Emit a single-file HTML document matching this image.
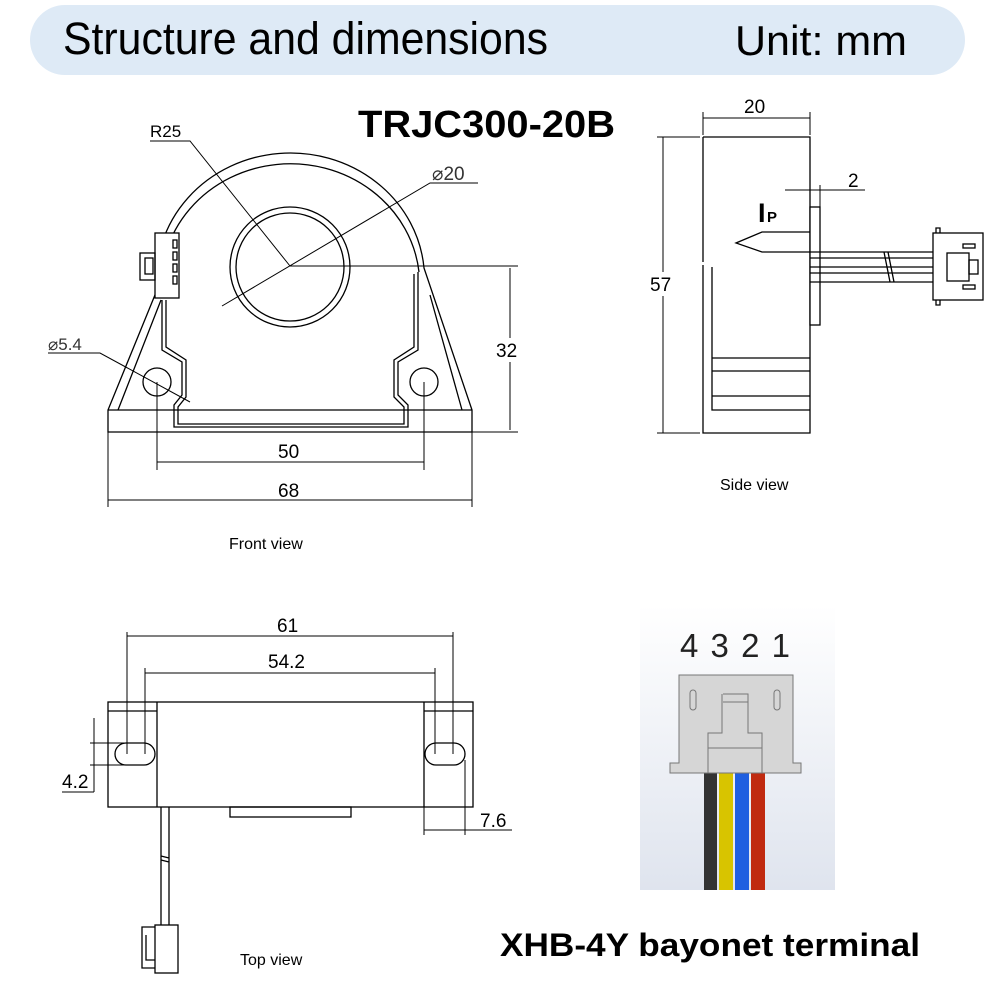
<!DOCTYPE html>
<html><head><meta charset="utf-8"><style>
html,body{margin:0;padding:0;background:#fff;width:1000px;height:1000px;overflow:hidden}
svg{display:block}
text{font-family:"Liberation Sans",sans-serif}
</style></head><body>
<svg width="1000" height="1000" viewBox="0 0 1000 1000" xmlns="http://www.w3.org/2000/svg">
<defs>
<linearGradient id="bg" x1="0" y1="0" x2="0" y2="1">
<stop offset="0" stop-color="#ffffff"/><stop offset="1" stop-color="#dfe4ee"/></linearGradient>
</defs>
<!-- header -->
<rect x="30" y="5" width="935" height="70" rx="35" fill="#deeaf6"/>
<text x="63" y="54" font-size="45" textLength="485" lengthAdjust="spacingAndGlyphs">Structure and dimensions</text>
<text x="735" y="55" font-size="42" textLength="172" lengthAdjust="spacingAndGlyphs">Unit: mm</text>
<text x="358" y="137" font-size="38" font-weight="600" textLength="257" lengthAdjust="spacingAndGlyphs">TRJC300-20B</text>

<g fill="none" stroke="#000" stroke-width="1.3">
<!-- FRONT VIEW -->
<path d="M157,290 A134,126 0 0 1 424,268 L472,410 L472,432 L108,432 L108,410 Z" fill="#fff"/>
<path d="M162,298 A129,121 0 0 1 419,272"/>
<path d="M161,300 L118,410 M430,295 L462,410"/>
<path d="M108,410 H472"/>
<path d="M162,300 V350 L182,362 V395 L174,405 V427 H408 V405 L398,395 V362 L418,350 V272"/>
<path d="M166,300 V347 L186,360 V397 L178,407 V424 H404 V407 L394,397 V360 L414,347 V274"/>
<circle cx="290" cy="267" r="60"/><circle cx="290" cy="267" r="54"/>
<circle cx="157" cy="382" r="14"/><circle cx="424" cy="382" r="14"/>
<rect x="155" y="233" width="24" height="65" fill="#fff"/>
<rect x="140" y="253" width="15" height="27"/>
<rect x="145" y="258" width="8" height="16"/>
<rect x="173" y="240" width="4" height="8"/><rect x="173" y="252" width="4" height="8"/><rect x="173" y="264" width="4" height="8"/><rect x="173" y="276" width="4" height="8"/>
</g>
<g fill="none" stroke="#000" stroke-width="1">
<path d="M150,141 H190 L290,266 M478,183 H430 L222,306"/>
<path d="M48,353 H100 L190,402"/>
<path d="M290,266 H518 M472,432 H518 M510,268 V430"/>
<path d="M157,382 V470 M424,382 V470 M157,462 H424"/>
<path d="M108,432 V507 M472,432 V507 M108,500 H472"/>
</g>
<text x="150" y="137" font-size="17">R25</text>
<text x="432" y="180" font-size="19" fill="#333">⌀20</text>
<text x="48" y="350" font-size="17" fill="#333">⌀5.4</text>
<rect x="495" y="338" width="30" height="24" fill="#fff"/>
<text x="496" y="357" font-size="19">32</text>
<text x="278" y="458" font-size="19">50</text>
<text x="278" y="497" font-size="19">68</text>
<text x="229" y="549" font-size="16">Front view</text>

<!-- SIDE VIEW -->
<g fill="none" stroke="#000" stroke-width="1.3">
<path d="M703,137 H810 V433 H703 V265 M703,262 V137"/>
<path d="M712,267 V410 H810 M712,396 H810 M712,371 H810 M712,358 H810"/>
<rect x="810" y="207" width="10" height="118" fill="#fff"/>
<path d="M810,232 H762 L736,243 L762,252 H810"/>
<path d="M810,252 H933 M810,258 H933 M810,267 H933 M810,273 H933 M810,282 H933 M884,252 L890,282 M888,252 L894,282"/>
<rect x="933" y="233" width="50" height="67" fill="#fff"/>
<path d="M936,233 V228 H940 V233 M936,300 V305 H940 V300"/>
<rect x="947" y="253" width="22" height="28"/>
<rect x="969" y="260" width="9" height="14"/>
<rect x="963" y="244" width="12" height="4"/><rect x="963" y="285" width="12" height="4"/>
</g>
<g fill="none" stroke="#000" stroke-width="1">
<path d="M703,112 V135 M810,112 V135 M703,118 H810"/>
<path d="M657,137 H700 M657,433 H700 M663,137 V433"/>
<path d="M785,190 H865 M820,185 V207"/>
</g>
<text x="744" y="113" font-size="19">20</text>
<rect x="648" y="272" width="30" height="24" fill="#fff"/>
<text x="650" y="291" font-size="19">57</text>
<text x="848" y="187" font-size="19">2</text>
<text x="758" y="222" font-size="27" font-weight="bold">I</text>
<text x="767" y="222" font-size="15" font-weight="bold">P</text>
<text x="720" y="490" font-size="16">Side view</text>

<!-- TOP VIEW -->
<g fill="none" stroke="#000" stroke-width="1.3">
<rect x="108" y="702" width="365" height="105" fill="#fff"/>
<path d="M157,702 V807 M424,702 V807 M108,711 H157 M424,711 H473"/>
<rect x="115" y="743" width="40" height="22" rx="11"/>
<rect x="425" y="743" width="40" height="22" rx="11"/>
<rect x="230" y="807" width="121" height="10"/>
<path d="M161,807 V925 M169,807 V925 M161,856 L169,858 M161,860 L169,862"/>
<rect x="155" y="925" width="23" height="48" fill="#fff"/>
<path d="M155,927 H142 V968 H155 M146,935 V960 H155"/>
</g>
<g fill="none" stroke="#000" stroke-width="1">
<path d="M127,632 V754 M453,632 V754 M127,636 H453"/>
<path d="M145,668 V754 M435,668 V754 M145,673 H435"/>
<path d="M90,743 H125 M90,765 H125 M94,718 V792 M62,792 H94"/>
<path d="M424,807 V835 M465,760 V835 M424,830 H512"/>
</g>
<text x="277" y="632" font-size="19">61</text>
<text x="268" y="668" font-size="19">54.2</text>
<text x="62" y="788" font-size="19">4.2</text>
<text x="480" y="827" font-size="19">7.6</text>
<text x="240" y="965" font-size="16">Top view</text>

<!-- CONNECTOR PHOTO -->
<rect x="640" y="605" width="195" height="285" fill="url(#bg)"/>
<text x="680" y="657" font-size="33" fill="#222" textLength="110" lengthAdjust="spacing">4321</text>
<rect x="704" y="773" width="13" height="117" fill="#333"/>
<rect x="719" y="773" width="14" height="117" fill="#d8c400"/>
<rect x="735" y="773" width="14" height="117" fill="#1f5fe0"/>
<rect x="751" y="773" width="14" height="117" fill="#c02a10"/>
<g stroke="#777" stroke-width="1" fill="#d6d6d6">
<path d="M679,675 H793 V763 H801 V773 H670 V763 H679 Z"/>
<path d="M723,694 H748 V733 H762 V773 M708,773 V733 H722 V694" fill="none"/>
<path d="M708,748 H762 M723,702 H748" fill="none"/>
<rect x="690" y="690" width="6" height="20" rx="3"/>
<rect x="774" y="690" width="6" height="20" rx="3"/>
</g>
<text x="500" y="956" font-size="32" font-weight="600" textLength="420" lengthAdjust="spacingAndGlyphs">XHB-4Y bayonet terminal</text>
</svg>
</body></html>
